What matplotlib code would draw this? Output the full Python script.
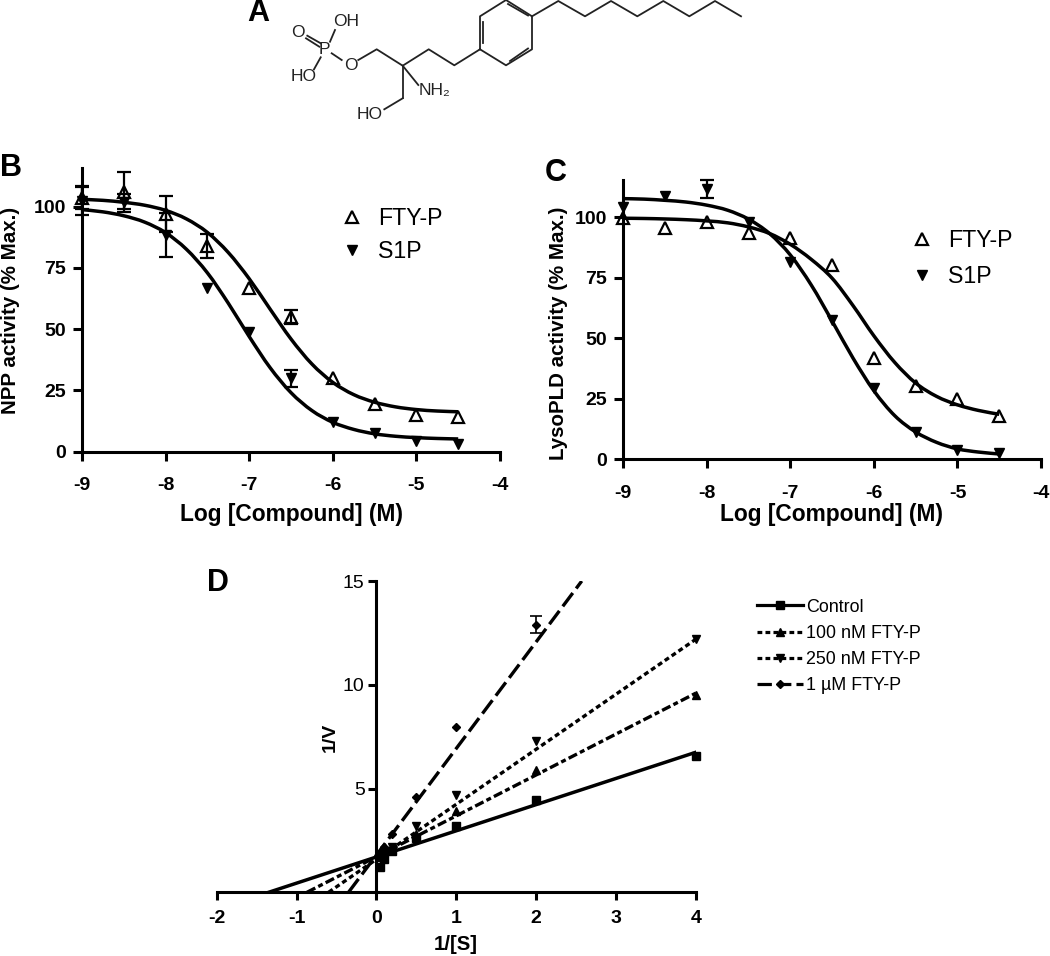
import matplotlib
matplotlib.use("Agg")
import matplotlib.pyplot as plt
from matplotlib.path import Path
from matplotlib.patches import PathPatch

plt.rcParams['font.family'] = ['Liberation Sans', 'DejaVu Sans']
plt.rcParams['axes.unicode_minus'] = False

W, H = 1050, 956

# panel B
conc = [-9, -8.5, -8, -7.5, -7, -6.5, -6, -5.5, -5, -4.5]
curve_x = [-9, -8.75, -8.5, -8.25, -8, -7.75, -7.5, -7.25, -7, -6.75, -6.5, -6.25,
           -6, -5.75, -5.5, -5.25, -5, -4.75, -4.5]
b_fty = [103.4, 106, 97, 84, 67, 55, 30, 19.5, 15, 14]
b_fty_err = [4.5, 8, 7.5, 5, 0, 3, 0, 0, 0, 0]
b_s1p = [102.5, 102, 88.5, 67, 49, 30, 12, 7.5, 4.5, 3]
b_s1p_err = [6, 3, 9, 0, 0, 3.5, 0, 0, 0, 0]
b_fty_fit = [103.0, 102.6, 101.8, 100.6, 98.5, 95.0, 89.5, 81.3, 70.6, 58.2, 46.0, 35.8,
             28.3, 23.3, 20.2, 18.3, 17.2, 16.6, 16.3]
b_s1p_fit = [98.8, 97.9, 96.3, 93.7, 89.4, 82.6, 73.0, 60.6, 47.0, 34.3, 24.1, 16.8,
             12.0, 9.1, 7.3, 6.3, 5.75, 5.4, 5.2]

# panel C
c_fty = [99.5, 95.7, 98.2, 93.4, 91.3, 80.3, 42, 30.3, 25, 18]
c_fty_err = [0, 0, 0, 0, 0, 0, 0, 0, 0, 0]
c_s1p = [104.4, 108.8, 111.6, 98.2, 81.7, 57.6, 29.3, 11.4, 3.9, 2.5]
c_s1p_err = [0, 0, 3.6, 0, 0, 0, 0, 0, 0, 0]
c_fty_fit = [99.6, 99.5, 99.3, 99.0, 98.5, 97.7, 96.0, 93.3, 88.8, 82.6, 74.8, 63.5,
             51, 40, 31.5, 26, 22.5, 20.2, 18.6]
c_s1p_fit = [107.7, 107.5, 107, 106.3, 105, 102.9, 99.2, 93.3, 84.4, 72, 57.1, 41.8,
             28.3, 18, 11.3, 7, 4.3, 3, 2.2]

log_ticks = [-9, -8, -7, -6, -5, -4]
log_labels = ['-9', '-8', '-7', '-6', '-5', '-4']
pct_ticks = [0, 25, 50, 75, 100]

# panel D
inv_s = [4, 2, 1, 0.5, 0.2, 0.1, 0.05]
control = [6.55, 4.45, 3.2, 2.6, 2.0, 1.6, 1.2]
fty_100 = [9.5, 5.9, 3.9, 2.8, 2.1, 1.9, 1.7]
fty_250 = [12.2, 7.3, 4.7, 3.2, 2.2, 2.0, 1.8]
inv_s_1um = [2, 1, 0.5, 0.2, 0.1, 0.05]
fty_1um = [12.9, 7.95, 4.6, 2.8, 2.2, 1.9]
control_fit_x, control_fit_y = [-1.35, 4], [0, 6.75]
fty_100_fit_x, fty_100_fit_y = [-0.87, 4], [0, 9.6]
fty_250_fit_x, fty_250_fit_y = [-0.6, 4], [0, 12.2]
fty_1um_fit_x, fty_1um_fit_y = [-0.35, 2.57], [0, 15]

# panel A structure, in picture pixels
bonds = [
    ((306, 38.3), (319.3, 46.7)), ((307.3, 35.7), (320.7, 43.3)),
    ((330, 41.7), (335, 30)), ((320.7, 57.3), (314, 69.3)), ((331.7, 53.3), (341.7, 60)),
    ((402.7, 65.7), (418.3, 85)), ((402.7, 65.7), (402.7, 98.3)), ((402.7, 98.3), (384.3, 109.3)),
    ((483.3, 43), (483.3, 22)), ((508, 4), (528, 15.5)), ((510, 61), (528, 48.5)),
]
backbone = [(358.3, 60), (376.7, 49.3), (402.7, 65.7), (428.7, 49.3), (454.3, 65.3), (480, 49.3),
            (480, 16.3), (506, 0), (532, 16.3), (532, 49.3), (506, 65.3), (480, 49.3)]
chain = [(532, 16.3), (558.3, 1), (585, 16.3), (611, 1), (637.3, 16.3), (663.3, 1), (689.3, 16.3),
         (715, 1), (741, 16.3)]
atoms = [('O', 298.3, 32.7), ('P', 324.3, 49.3), ('OH', 345.7, 21), ('HO', 303.3, 76.7),
         ('O', 350.7, 65), ('HO', 370, 114), ('NH₂', 435, 90)]

fig = plt.figure(figsize=(W / 100, H / 100), dpi=100)

# pixel overlay for the structure, letters and label positions
px = fig.add_axes([0, 0, 1, 1])
px.set_xlim(0, W)
px.set_ylim(H, 0)
px.axis('off')


def rect(l, t, r, b):
    return [l / W, 1 - b / H, (r - l) / W, (b - t) / H]


def style(ax, tick_len=6.5, xpad=12, ypad=5):
    for s in ['top', 'right']:
        ax.spines[s].set_visible(False)
    for s in ['left', 'bottom']:
        ax.spines[s].set_linewidth(2.2)
    ax.tick_params(width=2.2, length=tick_len, labelsize=14)
    ax.tick_params(axis='x', pad=xpad)
    ax.tick_params(axis='y', pad=ypad)
    for t in ax.get_xticklabels() + ax.get_yticklabels():
        t.set_fontweight('bold')
    ax.patch.set_alpha(0)


# smooth line through the read points, bezier segments between them
def smooth(ax, xs, ys):
    verts = [(xs[0], ys[0])]
    codes = [Path.MOVETO]
    n = len(xs)
    for i in range(n - 1):
        x0, y0 = xs[max(i - 1, 0)], ys[max(i - 1, 0)]
        x3, y3 = xs[min(i + 2, n - 1)], ys[min(i + 2, n - 1)]
        c1 = (xs[i] + (xs[i + 1] - x0) / 6, ys[i] + (ys[i + 1] - y0) / 6)
        c2 = (xs[i + 1] - (x3 - xs[i]) / 6, ys[i + 1] - (y3 - ys[i]) / 6)
        verts += [c1, c2, (xs[i + 1], ys[i + 1])]
        codes += [Path.CURVE4] * 3
    ax.add_patch(PathPatch(Path(verts, codes), fc='none', ec='black', lw=2.5, capstyle='butt', zorder=3))


def with_err(xs, ys, errs):
    keep = [i for i in range(len(xs)) if errs[i] > 0]
    return [xs[i] for i in keep], [ys[i] for i in keep], [errs[i] for i in keep]


def dose_panel(ax, fty, fty_fit, fty_err, s1p, s1p_fit, s1p_err, ylabel, ylab_pos, xlab_pos, leg_pos, leg_gap):
    ax.set_xlim(-9, -4)
    ax.set_xticks(log_ticks)
    ax.set_xticklabels(log_labels)
    ax.set_yticks(pct_ticks)
    style(ax)
    smooth(ax, curve_x, fty_fit)
    smooth(ax, curve_x, s1p_fit)
    for ys, errs in [(fty, fty_err), (s1p, s1p_err)]:
        ex, ey, ee = with_err(conc, ys, errs)
        if ex:
            ax.errorbar(ex, ey, yerr=ee, fmt='none', ecolor='black', elinewidth=1.6,
                        capsize=4.7, capthick=1.6, clip_on=False, zorder=2)
    h1, = ax.plot(conc, fty, ls='none', marker='^', ms=8.5, mfc='none', mec='black', mew=1.6,
                  clip_on=False, zorder=4, label='FTY-P')
    h2, = ax.plot(conc, s1p, ls='none', marker='v', ms=7.5, color='black',
                  clip_on=False, zorder=4, label='S1P')
    ax.set_xlabel('Log [Compound] (M)', fontsize=16.4, fontweight='bold', va='center')
    ax.xaxis.set_label_coords(*xlab_pos, transform=px.transData)
    ax.set_ylabel(ylabel, fontsize=14.8, fontweight='bold', va='center')
    ax.yaxis.set_label_coords(*ylab_pos, transform=px.transData)
    ax.legend(handles=[h1, h2], loc='upper left', bbox_to_anchor=leg_pos, bbox_transform=px.transData,
              frameon=False, fontsize=16.7, numpoints=1, handlelength=1.0, handletextpad=0.65,
              labelspacing=leg_gap, borderpad=0, borderaxespad=0)


ax_b = fig.add_axes(rect(82, 168, 500, 451.7))
ax_b.set_ylim(0, 115.8)
dose_panel(ax_b, b_fty, b_fty_fit, b_fty_err, b_s1p, b_s1p_fit, b_s1p_err,
           'NPP activity (% Max.)', (11, 310), (291, 515), (340, 207), 0.43)

ax_c = fig.add_axes(rect(623.3, 180, 1041, 459.3))
ax_c.set_ylim(0, 115.4)
dose_panel(ax_c, c_fty, c_fty_fit, c_fty_err, c_s1p, c_s1p_fit, c_s1p_err,
           'LysoPLD activity (% Max.)', (558, 333), (831, 515), (910, 229), 0.56)

# panel D
ax_d = fig.add_axes(rect(216.7, 581, 696, 892.3))
ax_d.set_xlim(-2, 4)
ax_d.set_ylim(0, 15)
ax_d.set_xticks([-2, -1, 0, 1, 2, 3, 4])
ax_d.set_xticklabels(['-2', '-1', '0', '1', '2', '3', '4'])
ax_d.set_yticks([5, 10, 15])
style(ax_d, tick_len=5.5, xpad=7.5, ypad=3)
ax_d.spines['left'].set_position(('data', 0))
ax_d.plot(control_fit_x, control_fit_y, color='black', lw=2.5, zorder=2)
ax_d.plot(fty_100_fit_x, fty_100_fit_y, color='black', lw=2.4, ls=(0, (2.8, 1.0, 1.5, 1.0)), zorder=2)
ax_d.plot(fty_250_fit_x, fty_250_fit_y, color='black', lw=2.4, ls=(0, (1.5, 1.0)), zorder=2)
ax_d.plot(fty_1um_fit_x, fty_1um_fit_y, color='black', lw=2.4, ls=(0, (5, 1.7)), zorder=2)
ax_d.errorbar(inv_s_1um[:1], fty_1um[:1], yerr=[0.4], fmt='none', ecolor='black', elinewidth=1.2,
              capsize=4, capthick=1.2, zorder=3)
ax_d.plot(inv_s, control, ls='none', marker='s', ms=6.3, color='black', clip_on=False, zorder=4)
ax_d.plot(inv_s, fty_100, ls='none', marker='^', ms=6, color='black', clip_on=False, zorder=4)
ax_d.plot(inv_s, fty_250, ls='none', marker='v', ms=6, color='black', clip_on=False, zorder=4)
ax_d.plot(inv_s_1um, fty_1um, ls='none', marker='D', ms=4.2, color='black', clip_on=False, zorder=4)
ax_d.set_xlabel('1/[S]', fontsize=14.7, fontweight='bold', va='center')
ax_d.xaxis.set_label_coords(456, 945, transform=px.transData)
ax_d.set_ylabel('1/V', fontsize=14, fontweight='bold', va='center')
ax_d.yaxis.set_label_coords(330, 737, transform=px.transData)

leg_handles = [
    plt.Line2D([], [], color='black', lw=2.3, marker='s', ms=6.3),
    plt.Line2D([], [], color='black', lw=2.3, ls=(0, (1.5, 1.0)), marker='^', ms=6),
    plt.Line2D([], [], color='black', lw=2.3, ls=(0, (1.5, 1.0)), marker='v', ms=6),
    plt.Line2D([], [], color='black', lw=2.3, ls=(0, (4.5, 1.6)), marker='D', ms=4.2),
]
ax_d.legend(leg_handles, ['Control', '100 nM FTY-P', '250 nM FTY-P', '1 µM FTY-P'],
            loc='upper left', bbox_to_anchor=(757, 598.5), bbox_transform=px.transData, frameon=False,
            fontsize=12.9, numpoints=1, handlelength=2.55, handletextpad=0.2, labelspacing=0.52,
            borderpad=0, borderaxespad=0)

# panel A structure
for a, b in bonds:
    px.plot([a[0], b[0]], [a[1], b[1]], color='#222222', lw=1.3)
px.plot([p[0] for p in backbone], [p[1] for p in backbone], color='#222222', lw=1.3, clip_on=False)
px.plot([p[0] for p in chain], [p[1] for p in chain], color='#222222', lw=1.3, clip_on=False)
for s, x, y in atoms:
    px.text(x, y, s, fontsize=12.5, ha='center', va='center', color='#222222')

# panel letters
for s, x, y in [('A', 258, 13), ('B', 11, 168), ('C', 556, 173), ('D', 218, 583)]:
    px.text(x, y, s, fontsize=22, fontweight='bold', ha='center', va='center')

fig.savefig('out.png', dpi=100)
